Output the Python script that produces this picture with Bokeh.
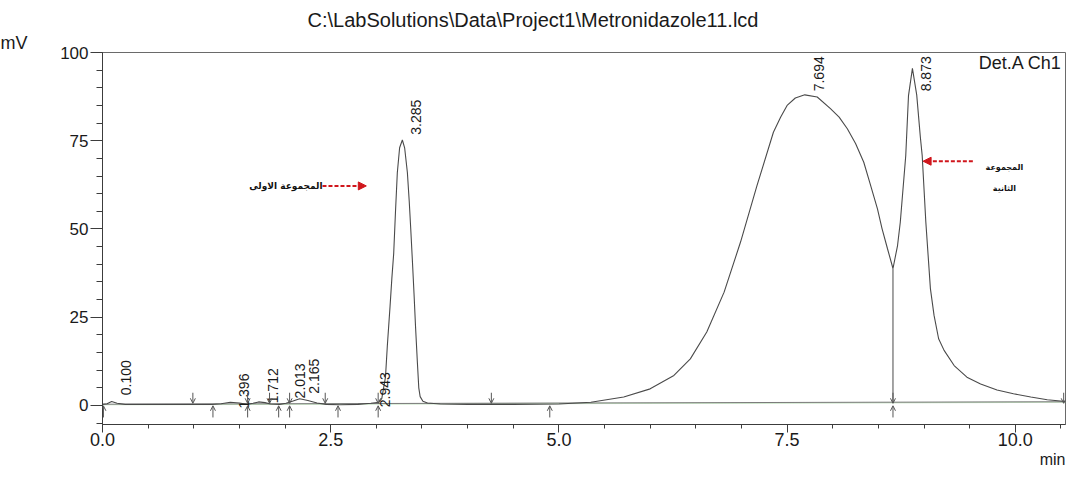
import math
from bokeh.plotting import figure
from bokeh.models import (FixedTicker, Label, Arrow, NormalHead, OpenHead, Title,
                          ColumnDataSource, Range1d, NumeralTickFormatter)
from bokeh.core.properties import value
from bokeh.embed import file_html
from bokeh.resources import INLINE

# ---------------- data ----------------
TIME = [0.00, 0.05, 0.10, 0.16, 0.25, 0.50, 0.80, 1.00, 1.20, 1.30, 1.40, 1.50,
        1.58, 1.65, 1.71, 1.78, 1.84, 1.94, 2.01, 2.08, 2.16, 2.25, 2.35, 2.45,
        2.60, 2.80, 2.94, 3.03, 3.06, 3.10, 3.12, 3.15, 3.17, 3.19, 3.21, 3.23,
        3.255, 3.285, 3.31, 3.34, 3.36, 3.377, 3.395, 3.414, 3.43, 3.45, 3.465,
        3.48, 3.51, 3.56, 3.70, 4.00, 4.50, 5.00, 5.35, 5.71, 6.00, 6.26, 6.44,
        6.62, 6.81, 6.99, 7.17, 7.35, 7.43, 7.50, 7.59, 7.694, 7.83, 7.975, 8.07,
        8.16, 8.25, 8.34, 8.41, 8.49, 8.54, 8.60, 8.66, 8.71, 8.74, 8.80, 8.83,
        8.873, 8.92, 8.96, 8.98, 9.02, 9.07, 9.11, 9.16, 9.22, 9.33, 9.47, 9.62,
        9.80, 9.98, 10.17, 10.35, 10.55]
SIGNAL = [0.3, 0.5, 1.1, 0.6, 0.3, 0.3, 0.3, 0.3, 0.3, 0.5, 0.9, 0.7,
          0.3, 0.6, 1.0, 0.8, 0.4, 0.3, 0.6, 1.2, 1.9, 1.4, 0.7, 0.3,
          0.2, 0.3, 0.6, 0.9, 2.0, 8.0, 16.7, 28.0, 36.0, 43.0, 55.0, 66.0,
          73.0, 75.2, 73.0, 66.0, 58.0, 50.0, 41.0, 31.0, 22.0, 12.0, 5.0,
          2.5, 1.2, 0.7, 0.4, 0.3, 0.3, 0.4, 0.9, 2.4, 4.7, 8.5, 13.2,
          20.8, 32.1, 46.3, 62.3, 77.4, 81.7, 85.0, 87.1, 88.0, 87.4, 84.1, 81.7,
          78.4, 74.2, 68.9, 62.8, 55.7, 50.1, 44.4, 38.8, 45.3, 51.9, 70.8, 87.8,
          95.5, 88.0, 76.0, 70.8, 51.9, 33.1, 25.5, 18.9, 15.6, 11.3, 8.0, 6.1,
          4.4, 3.3, 2.4, 1.6, 1.1]

PEAK_RT = [0.100, 1.396, 1.712, 2.013, 2.165, 2.943, 3.285, 7.694, 8.873]
PEAK_LABEL_Y = [2.9, -0.9, 0.6, 2.0, 3.3, -0.5, 76.7, 89.0, 89.0]

BASE_T = [0.0, 10.55]
BASE_V = [0.2, 0.9]

DOWN_MARKS = [0.99, 1.59, 1.83, 2.05, 2.44, 3.02, 4.26, 8.66, 10.53]
UP_MARKS = [0.01, 1.21, 1.59, 1.93, 2.05, 2.58, 3.02, 4.90, 8.66]

DROP_T = [8.66, 8.66]
DROP_V = [38.8, 0.7]

X_TICKS = [0.0, 2.5, 5.0, 7.5, 10.0]
Y_TICKS = [0, 25, 50, 75, 100]

TITLE = "C:\\LabSolutions\\Data\\Project1\\Metronidazole11.lcd"
GROUP1 = "المجموعة الاولى"
GROUP2_A = "المجموعة"
GROUP2_B = "الثانية"

FONT = "Liberation Sans"
AR_FONT = "DejaVu Sans"
CURVE = "#4a4a4a"
AXIS = "#3c3c3c"
RED = "#d0161c"
TXT = "#1a1a1a"

p = figure(width=1068, height=477, x_range=Range1d(0, 10.55), y_range=Range1d(-5.4, 100),
           output_backend="svg", toolbar_location=None, title=TITLE,
           min_border_left=102, min_border_right=3, min_border_top=52, min_border_bottom=53)
p.title.align = "left"
p.title.offset = 205
p.title.text_font = FONT
p.title.text_font_size = "20px"
p.title.text_font_style = "normal"
p.title.text_color = TXT
p.title.standoff = 0

p.add_layout(Title(text="mV", align="left", offset=-102, standoff=0, text_font=FONT,
                   text_font_size="18px", text_font_style="normal", text_color=TXT), "above")
p.add_layout(Title(text="min", align="right", offset=0, standoff=0, text_font=FONT,
                   text_font_size="16px", text_font_style="normal", text_color=TXT), "below")

p.background_fill_color = "white"
p.border_fill_color = "white"
p.outline_line_color = "#6a6a6a"
p.grid.visible = False

# axes
p.xaxis.ticker = FixedTicker(ticks=X_TICKS, minor_ticks=[i * 0.5 for i in range(0, 22)])
p.yaxis.ticker = FixedTicker(ticks=Y_TICKS, minor_ticks=[i * 5 for i in range(-1, 21)])
p.xaxis.formatter = NumeralTickFormatter(format="0.0")
p.yaxis.formatter = NumeralTickFormatter(format="0")
for ax in (p.xaxis, p.yaxis):
    ax.axis_line_color = AXIS
    ax.major_tick_line_color = AXIS
    ax.minor_tick_line_color = AXIS
    ax.major_tick_in = 0
    ax.minor_tick_in = 0
    ax.major_label_text_font = FONT
    ax.major_label_text_color = TXT
p.xaxis.major_tick_out = 8
p.xaxis.minor_tick_out = 4
p.xaxis.major_label_standoff = 0
p.xaxis.major_label_text_font_size = "18px"
p.yaxis.major_tick_out = 12
p.yaxis.minor_tick_out = 6
p.yaxis.major_label_standoff = 2
p.yaxis.major_label_text_font_size = "17px"

# baseline
p.line(BASE_T, BASE_V, line_color="#9fcf9a", line_width=1.2, line_alpha=0.6)
p.line(BASE_T, [v + 0.15 for v in BASE_V], line_color="#7a7a7a", line_width=1)

# chromatogram
p.line(TIME, SIGNAL, line_color=CURVE, line_width=1.1)

# drop line between the two last peaks
p.line(DROP_T, DROP_V, line_color=CURVE, line_width=1)

# integration markers
down_src = ColumnDataSource(dict(x=DOWN_MARKS, y0=[3.6] * len(DOWN_MARKS), y1=[0.6] * len(DOWN_MARKS)))
up_src = ColumnDataSource(dict(x=UP_MARKS, y0=[-3.4] * len(UP_MARKS), y1=[-0.1] * len(UP_MARKS)))
for src in (down_src, up_src):
    p.add_layout(Arrow(end=OpenHead(size=5, line_width=1, line_color="#555555"),
                       x_start="x", y_start="y0", x_end="x", y_end="y1",
                       line_color="#555555", line_width=1, source=src))

# peak retention-time labels
p.text(x=PEAK_RT, y=PEAK_LABEL_Y, text=[f"{t:.3f}" for t in PEAK_RT], angle=math.pi / 2,
       text_align="left", text_baseline="middle", x_offset=14,
       text_font=value(FONT), text_font_size="14px", text_color=TXT)

p.add_layout(Label(x=10.51, y=97.0, text="Det.A Ch1", text_align="right", text_baseline="middle",
                   text_font=FONT, text_font_size="18px", text_color=TXT))

# arabic annotations with red dashed arrows
p.add_layout(Label(x=2.41, y=62.2, text=GROUP1, text_align="right", text_baseline="middle",
                   text_font=AR_FONT, text_font_size="9px", text_font_style="bold",
                   text_color="#111111"))
p.add_layout(Arrow(end=NormalHead(size=8, fill_color=RED, line_color=RED),
                   x_start=2.41, y_start=62.2, x_end=2.89, y_end=62.2,
                   line_color=RED, line_width=2, line_dash="4 2"))
p.add_layout(Label(x=9.88, y=67.3, text=GROUP2_A, text_align="center", text_baseline="middle",
                   text_font=AR_FONT, text_font_size="8px", text_font_style="bold",
                   text_color="#111111"))
p.add_layout(Label(x=9.88, y=61.6, text=GROUP2_B, text_align="center", text_baseline="middle",
                   text_font=AR_FONT, text_font_size="8px", text_font_style="bold",
                   text_color="#111111"))
p.add_layout(Arrow(end=NormalHead(size=8, fill_color=RED, line_color=RED),
                   x_start=9.535, y_start=69.2, x_end=8.99, y_end=69.2,
                   line_color=RED, line_width=2, line_dash="4 2"))

open("out.html", "w").write(file_html(p, INLINE))
